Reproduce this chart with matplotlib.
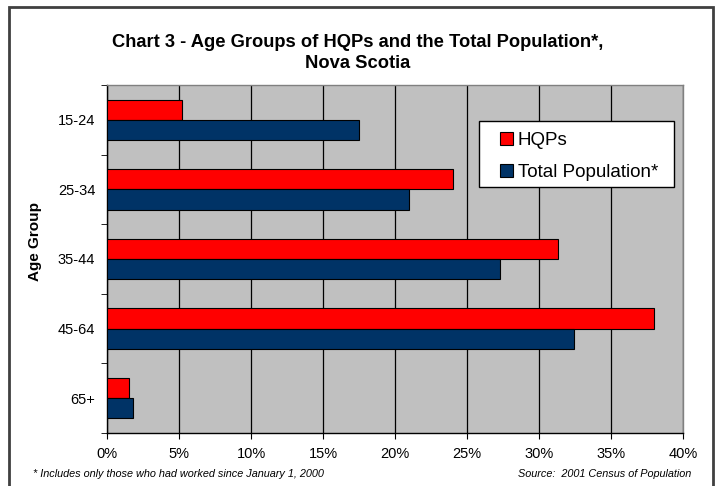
import matplotlib
matplotlib.use("Agg")
from matplotlib import pyplot as plt
from matplotlib.patches import Rectangle
from matplotlib.ticker import FixedLocator, PercentFormatter
import numpy as np

plt.rcParams['font.family'] = ['Liberation Sans', 'DejaVu Sans']

# data
age_groups = ['15-24', '25-34', '35-44', '45-64', '65+']
hqps = [5.2, 24.0, 31.3, 38.0, 1.5]
total_pop = [17.5, 21.0, 27.3, 32.4, 1.8]
series_names = ['HQPs', 'Total Population*']
x_ticks = [0, 5, 10, 15, 20, 25, 30, 35, 40]

fig = plt.figure(figsize=(7.16, 4.86), dpi=100)
ax = fig.add_axes([107 / 716, 1 - 433 / 486, 576 / 716, 348 / 486])

# outer frame
fig.patches.append(Rectangle((9 / 716, -0.05), 704 / 716, 1.05 - 7 / 486,
                             transform=fig.transFigure, fill=False,
                             edgecolor='#404040', lw=2))

ax.set_facecolor('#C0C0C0')
y = np.arange(len(age_groups))
bh = 0.29
ax.barh(y - bh / 2, hqps, height=bh, color='#FF0000', edgecolor='black', lw=0.8,
        label=series_names[0], zorder=3)
ax.barh(y + bh / 2, total_pop, height=bh, color='#003366', edgecolor='black', lw=0.8,
        label=series_names[1], zorder=3)

ax.set_xlim(0, 40)
ax.set_ylim(len(age_groups) - 0.5, -0.5)
ax.xaxis.set_major_locator(FixedLocator(x_ticks))
ax.xaxis.set_major_formatter(PercentFormatter(decimals=0))
ax.grid(axis='x', color='black', lw=0.9, zorder=1)

ax.set_yticks(y)
ax.set_yticklabels(age_groups)
ax.set_yticks(np.arange(-0.5, len(age_groups), 1), minor=True)
ax.tick_params(axis='y', which='major', length=0, pad=8.5, labelsize=10.5)
ax.tick_params(axis='y', which='minor', length=4, direction='out')
ax.tick_params(axis='x', length=4, direction='out', labelsize=10.5, pad=6)

for s in ['left', 'bottom']:
    ax.spines[s].set_color('black')
    ax.spines[s].set_linewidth(1)
for s in ['top', 'right']:
    ax.spines[s].set_color('#808080')
    ax.spines[s].set_linewidth(1)

ax.set_ylabel('Age Group', fontsize=11, fontweight='bold')
ax.yaxis.set_label_coords(-0.113, 0.549)

fig.text(0.5, 1 - 53 / 486, 'Chart 3 - Age Groups of HQPs and the Total Population*,\nNova Scotia',
         ha='center', va='center', fontsize=13.2, fontweight='bold', linespacing=1.3)

# legend box drawn separately so the padding can differ per side
ax.add_patch(Rectangle((0.646, 0.706), 0.338, 0.191, transform=ax.transAxes,
                       facecolor='white', edgecolor='black', lw=1, zorder=4))
leg = ax.legend(loc='upper left', bbox_to_anchor=(0.682, 0.865), fontsize=13.5,
                frameon=False, handlelength=0.7, handleheight=0.7, handletextpad=0.25,
                labelspacing=0.78, borderpad=0, borderaxespad=0)
leg.set_zorder(5)

fig.text(33 / 716, 1 - 474 / 486, '* Includes only those who had worked since January 1, 2000',
         ha='left', va='center', fontsize=7.8, style='italic')
fig.text(691 / 716, 1 - 474 / 486, 'Source:  2001 Census of Population',
         ha='right', va='center', fontsize=7.8, style='italic')

fig.savefig('out.png', dpi=100)
